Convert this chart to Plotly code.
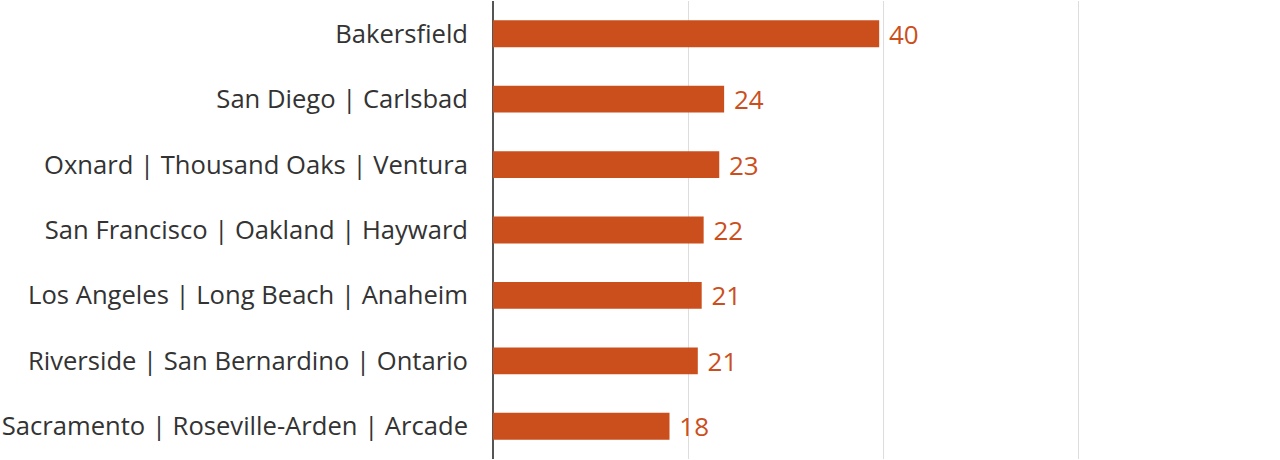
import plotly.graph_objects as go

cities = [
    "Bakersfield",
    "San Diego | Carlsbad",
    "Oxnard | Thousand Oaks | Ventura",
    "San Francisco | Oakland | Hayward",
    "Los Angeles | Long Beach | Anaheim",
    "Riverside | San Bernardino | Ontario",
    "Sacramento | Roseville-Arden | Arcade",
]
values = [39.6, 23.7, 23.2, 21.6, 21.4, 21.0, 18.1]
labels = ["40", "24", "23", "22", "21", "21", "18"]

bar_color = "#CB4F1C"
FONT = "Open Sans"

fig = go.Figure(
    go.Bar(
        x=values,
        y=cities,
        orientation="h",
        marker=dict(color=bar_color, line=dict(width=0)),
        text=[" " + t for t in labels],
        textposition="outside",
        constraintext="none",
        textfont=dict(family=FONT, size=26, color=bar_color),
        cliponaxis=False,
        hoverinfo="skip",
    )
)

fig.update_layout(
    width=1280,
    height=460,
    margin=dict(l=493, r=0, t=1, b=1, autoexpand=False),
    paper_bgcolor="white",
    plot_bgcolor="white",
    bargap=0.59,
    showlegend=False,
    font=dict(family=FONT, size=25.6, color="#333333"),
)
fig.update_xaxes(
    range=[0, 80.7],
    tickvals=[0, 20, 40, 60],
    showticklabels=False,
    showgrid=True,
    gridcolor="#dddddd",
    gridwidth=1,
    zeroline=True,
    zerolinecolor="#555555",
    zerolinewidth=1.5,
    fixedrange=True,
)
fig.update_yaxes(
    autorange="reversed",
    automargin=False,
    showgrid=False,
    ticks="",
    ticklabelstandoff=24,
    tickfont=dict(family=FONT, size=25.6, color="#333333"),
    fixedrange=True,
)

fig.write_html("out.html", config={"displayModeBar": False})
